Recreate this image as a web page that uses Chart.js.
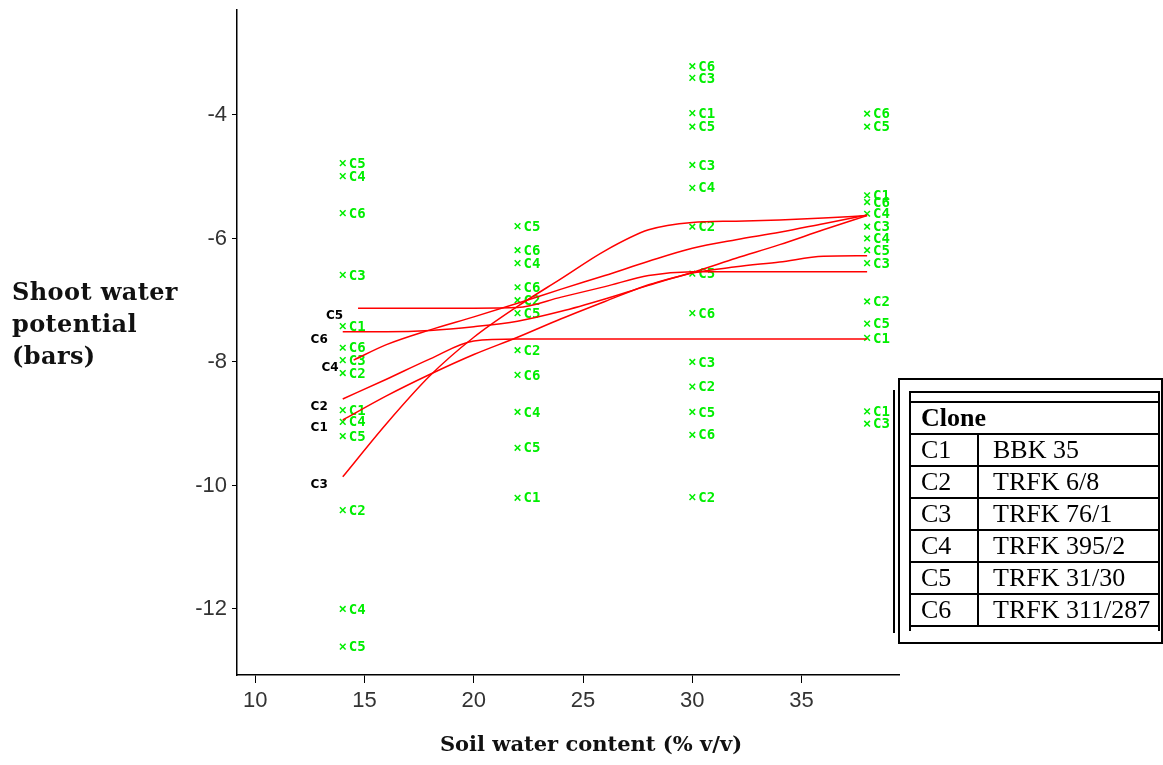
<!DOCTYPE html>
<html>
<head>
<meta charset="utf-8">
<script src="https://cdn.jsdelivr.net/npm/chart.js@4.4.1/dist/chart.umd.min.js"></script>
<style>
  body { margin: 0; background: #fff; }
  #wrap { position: relative; width: 1163px; height: 765px; overflow: hidden; }
  #yTitle { position: absolute; left: 12px; top: 276px; font: bold 24px "DejaVu Serif", serif; letter-spacing: 0.4px; line-height: 32px; color: #111; }
  #xTitle { position: absolute; left: 391px; width: 400px; top: 731px; text-align: center; font: bold 21px "DejaVu Serif", serif; color: #111; }
  #box { position: absolute; left: 898px; top: 378px; width: 261px; height: 262px; border: 2px solid #000; }
  #rule { position: absolute; left: 893px; top: 390px; width: 2px; height: 243px; background: #000; }
  #legend { position: absolute; left: 909px; top: 391px; width: 251px; border-collapse: collapse; font: 26px "Liberation Serif", serif; color: #000; }
  #legend td { border: 2px solid #000; padding: 0 0 0 10px; height: 30px; line-height: 30px; }
  #legend td.n { padding-left: 14px; }
  #legend tr.top td { height: 8px; line-height: 8px; }
  #legend tr.end td { height: 4px; line-height: 4px; border-bottom: none; }
</style>
</head>
<body>
<div id="wrap">
  <canvas id="c" width="1163" height="765"></canvas>
  <div id="yTitle">Shoot water<br>potential<br>(bars)</div>
  <div id="xTitle">Soil water content (% v/v)</div>
  <div id="rule"></div>
  <div id="box"></div>
  <table id="legend"></table>
</div>
<script>
// clones and their names (legend table)
const clones = ["C1", "C2", "C3", "C4", "C5", "C6"];
const cloneNames = ["BBK 35", "TRFK 6/8", "TRFK 76/1", "TRFK 395/2", "TRFK 31/30", "TRFK 311/287"];

// observed shoot water potential (bars) at each soil water content
const soilLevels = [14, 22, 30, 38];
const swp14 = [-4.78, -4.99, -5.59, -6.59, -7.42, -7.77, -7.97, -8.18, -8.78, -8.97, -9.20, -10.40, -12.0, -12.61];
const tag14 = ["C5", "C4", "C6", "C3", "C1", "C6", "C3", "C2", "C1", "C4", "C5", "C2", "C4", "C5"];
const swp22 = [-5.80, -6.19, -6.40, -6.79, -7.00, -7.21, -7.81, -8.21, -8.81, -9.39, -10.20];
const tag22 = ["C5", "C6", "C4", "C6", "C2", "C5", "C2", "C6", "C4", "C5", "C1"];
const swp30 = [-3.21, -3.40, -3.97, -4.19, -4.81, -5.18, -5.81, -6.57, -7.21, -8.00, -8.40, -8.81, -9.18, -10.19];
const tag30 = ["C6", "C3", "C1", "C5", "C3", "C4", "C2", "C5", "C6", "C3", "C2", "C5", "C6", "C2"];
const swp38 = [-3.98, -4.19, -5.30, -5.41, -5.60, -5.81, -6.00, -6.19, -6.40, -7.02, -7.38, -7.61, -8.80, -9.00];
const tag38 = ["C6", "C5", "C1", "C6", "C4", "C3", "C4", "C5", "C3", "C2", "C5", "C1", "C1", "C3"];

// fitted curves
const fitX = [14, 16, 18, 20, 22, 24, 26, 28, 30, 32, 34, 36, 38];
const fitStart = [14, 14, 14, 14.5, 14.7, 14];
const fitC1 = [-8.94, -8.55, -8.20, -7.88, -7.60, -7.30, -7.02, -6.75, -6.55, -6.32, -6.10, -5.86, -5.63];
const fitC2 = [-8.60, -8.28, -7.95, -7.66, -7.63, -7.63, -7.63, -7.63, -7.63, -7.63, -7.63, -7.63, -7.63];
const fitC3 = [-9.86, -9.00, -8.22, -7.60, -7.10, -6.65, -6.20, -5.86, -5.74, -5.72, -5.70, -5.67, -5.63];
const fitC4 = [-7.97, -7.72, -7.48, -7.27, -7.05, -6.82, -6.60, -6.37, -6.16, -6.02, -5.90, -5.76, -5.62];
const fitC5 = [-7.13, -7.13, -7.13, -7.13, -7.12, -6.95, -6.78, -6.60, -6.54, -6.54, -6.54, -6.54, -6.54];
const fitC6 = [-7.51, -7.51, -7.49, -7.43, -7.34, -7.18, -6.98, -6.76, -6.56, -6.46, -6.38, -6.29, -6.28];

const xTicks = [10, 15, 20, 25, 30, 35];
const yTicks = [-12, -10, -8, -6, -4];

// legend table
const table = document.getElementById("legend");
let rows = '<tr class="top"><td colspan="2"></td></tr><tr><td colspan="2"><b>Clone</b></td></tr>';
clones.forEach((c, i) => { rows += `<tr><td style="width:56px">${c}</td><td class="n">${cloneNames[i]}</td></tr>`; });
rows += '<tr class="end"><td colspan="2"></td></tr>';
table.innerHTML = rows;

const fits = [fitC1, fitC2, fitC3, fitC4, fitC5, fitC6];
const lineSets = fits.map((f, i) => ({
    type: "line",
    label: clones[i],
    data: f.map((v, k) => ({x: k === 0 ? fitStart[i] : fitX[k], y: v})),
    borderColor: "#ff0000",
    borderWidth: 1.5,
    pointRadius: 0,
    fill: false,
    cubicInterpolationMode: "monotone",
    lineTag: true
}));

const obs = [[swp14, tag14], [swp22, tag22], [swp30, tag30], [swp38, tag38]];
const pointSets = obs.map((o, i) => ({
    type: "scatter",
    data: o[0].map(v => ({x: soilLevels[i], y: v})),
    tags: o[1],
    pointStyle: "crossRot",
    pointRadius: 4,
    borderWidth: 1.5,
    borderColor: "#00ee00",
    backgroundColor: "#00ee00"
}));

const tagPlugin = {
    id: "tags",
    beforeDatasetsDraw(chart) {
        const ctx = chart.ctx;
        ctx.save();
        ctx.font = 'bold 14px "DejaVu Sans Mono", monospace';
        ctx.fillStyle = "#00ee00";
        ctx.textBaseline = "middle";
        chart.data.datasets.forEach((ds, i) => {
            if (!ds.tags) return;
            chart.getDatasetMeta(i).data.forEach((el, j) => ctx.fillText(ds.tags[j], el.x + 6, el.y + 1));
        });
        ctx.restore();
    },
    afterDatasetsDraw(chart) {
        const ctx = chart.ctx;
        ctx.save();
        ctx.font = 'bold 12px "DejaVu Sans", sans-serif';
        ctx.fillStyle = "#000";
        ctx.textAlign = "right";
        ctx.textBaseline = "middle";
        chart.data.datasets.forEach((ds, i) => {
            if (!ds.lineTag) return;
            const p = chart.getDatasetMeta(i).data[0];
            ctx.fillText(ds.label, p.x - 15, p.y + 8);
        });
        ctx.restore();
    }
};

const tickFont = {family: '"Liberation Sans", sans-serif', size: 22};

new Chart(document.getElementById("c"), {
    data: {datasets: [...lineSets, ...pointSets]},
    options: {
        responsive: false,
        animation: false,
        devicePixelRatio: 1,
        layout: {padding: {left: 0, right: 264, top: 10, bottom: 0}},
        plugins: {legend: {display: false}, tooltip: {enabled: false}},
        scales: {
            x: {
                type: "linear",
                min: 9.16,
                max: 39.46,
                afterBuildTicks: s => { s.ticks = xTicks.map(v => ({value: v})) },
                afterFit: s => { s.height = 90 },
                grid: {drawOnChartArea: false, tickLength: 8, tickColor: "#000", tickWidth: 1},
                border: {color: "#000", width: 1.5},
                ticks: {color: "#333", padding: 5, font: tickFont}
            },
            y: {
                type: "linear",
                min: -13.07,
                max: -2.3,
                afterBuildTicks: s => { s.ticks = yTicks.map(v => ({value: v})) },
                afterFit: s => { s.width = 237; s.paddingTop = 0; s.paddingBottom = 0 },
                grid: {drawOnChartArea: false, tickLength: 5, tickColor: "#000", tickWidth: 1},
                border: {color: "#000", width: 1.5},
                ticks: {color: "#333", padding: 5, font: tickFont}
            }
        }
    },
    plugins: [tagPlugin]
});
</script>
</body>
</html>
